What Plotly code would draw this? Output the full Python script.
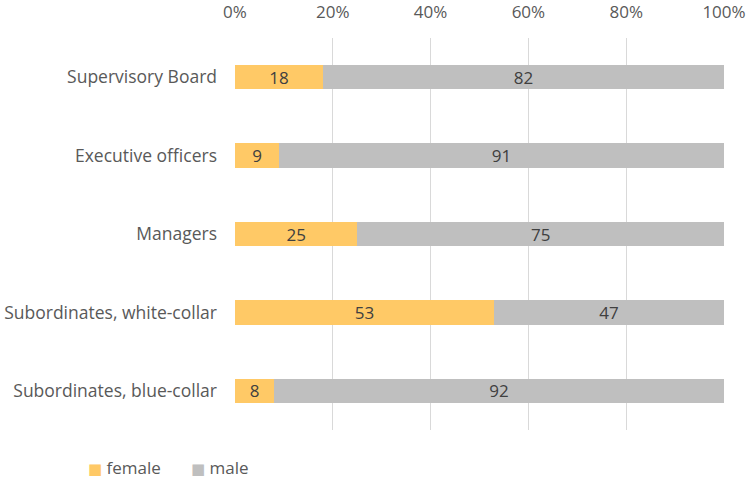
import plotly.graph_objects as go

categories = [
    "Supervisory Board",
    "Executive officers",
    "Managers",
    "Subordinates, white-collar",
    "Subordinates, blue-collar",
]
female = [18, 9, 25, 53, 8]
male = [82, 91, 75, 47, 92]
tick_vals = [0, 20, 40, 60, 80, 100]
tick_text = ["0%", "20%", "40%", "60%", "80%", "100%"]
series_names = ["female", "male"]
series_colors = ["#FFC966", "#BFBFBF"]

FONT = "Open Sans, Liberation Sans, sans-serif"
TEXT_COLOR = "#595959"
SIZE = 17

W, H = 748, 479
M_L, M_R, M_T, M_B = 235, 24, 38, 49
PLOT_W, PLOT_H = W - M_L - M_R, H - M_T - M_B

fig = go.Figure()
for name, values, color in zip(series_names, [female, male], series_colors):
    fig.add_trace(go.Bar(
        y=categories, x=values, name=name, orientation="h",
        marker=dict(color=color, line=dict(width=0)),
        text=[str(v) for v in values], textposition="inside",
        insidetextanchor="middle", textangle=0,
        textfont=dict(color="#404040", size=SIZE, family=FONT),
        showlegend=False,
    ))

# legend row beneath the plot: colored square followed by series name
legend_px = [86, 189]   # left edge of each legend entry, in pixels
legend_py = 467         # vertical center of the legend row, in pixels
for name, color, lx in zip(series_names, series_colors, legend_px):
    fig.add_annotation(
        xref="paper", yref="paper",
        x=(lx - M_L) / PLOT_W, y=-(legend_py - (M_T + PLOT_H)) / PLOT_H,
        showarrow=False,
        text=f"<span style='color:{color};font-family:DejaVu Sans;font-size:15px'>■</span> {name}",
        font=dict(size=SIZE, color=TEXT_COLOR, family=FONT),
        xanchor="left", yanchor="middle",
    )

fig.update_layout(
    barmode="stack",
    bargap=0.69,
    width=W, height=H,
    margin=dict(l=M_L, r=M_R, t=M_T, b=M_B, autoexpand=False),
    paper_bgcolor="white", plot_bgcolor="white",
    font=dict(family=FONT, color=TEXT_COLOR, size=SIZE),
    uniformtext=dict(mode="show", minsize=SIZE),
    xaxis=dict(
        side="top", range=[0, 100], tickvals=tick_vals, ticktext=tick_text,
        showgrid=True, gridcolor="#D9D9D9", gridwidth=1,
        zeroline=False, showline=False, ticks="",
        ticklabelstandoff=16, automargin=False,
        tickfont=dict(size=SIZE, color=TEXT_COLOR),
    ),
    yaxis=dict(
        categoryorder="array", categoryarray=categories[::-1],
        showgrid=False, zeroline=False, showline=False, ticks="",
        ticklabelstandoff=17, automargin=False,
        tickfont=dict(size=17.5, color=TEXT_COLOR),
    ),
)

fig.write_html("out.html")
